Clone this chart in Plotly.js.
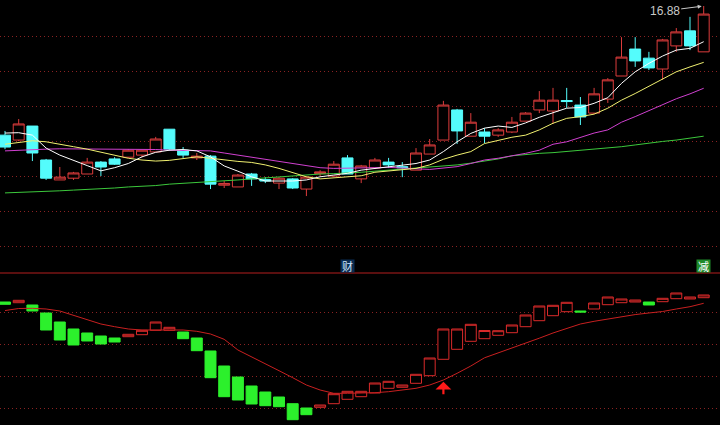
<!DOCTYPE html>
<html><head><meta charset="utf-8">
<script src="https://cdn.plot.ly/plotly-3.0.1.min.js"></script>
<style>html,body{margin:0;padding:0;background:#000;}#chart{width:720px;height:425px;}</style>
</head><body><div id="chart"></div>
<script>
// ---- price candles (52 sessions) ----
const openP  = [13.19,13.05,13.45,12.48,11.91,11.96,12.08,12.42,12.51,12.56,
                12.62,12.71,13.36,12.76,12.54,12.59,11.76,11.71,12.08,11.92,
                11.82,11.94,11.65,12.09,12.02,12.54,11.94,12.25,12.42,12.29,
                12.19,12.65,13.05,13.91,13.16,13.28,13.19,13.28,13.59,13.91,
                13.88,14.18,14.05,13.82,14.22,14.88,15.65,15.39,15.08,15.74,
                16.17,15.57];
const highP  = [13.31,13.65,13.45,12.51,12.28,12.14,12.54,12.45,12.56,12.79,
                12.76,13.14,13.36,12.85,12.68,12.62,11.88,12.08,12.11,11.99,
                11.99,11.96,12.02,12.19,12.45,12.62,12.34,12.54,12.54,12.42,
                12.82,13.08,14.17,13.94,13.82,13.39,13.39,13.71,13.85,14.45,
                14.54,14.54,14.28,14.54,14.82,15.99,15.99,15.57,15.94,16.25,
                16.57,16.88];
const lowP   = [12.79,13.02,12.45,11.91,11.91,11.91,12.08,12.02,12.34,12.54,
                12.56,12.71,12.74,12.54,12.48,11.65,11.68,11.71,11.74,11.82,
                11.65,11.65,11.45,12.02,11.99,12.08,11.82,12.22,12.25,11.99,
                12.19,12.65,13.05,12.94,13.16,12.96,13.14,13.25,13.59,13.82,
                13.51,13.97,13.48,13.79,14.11,14.88,15.14,15.05,14.77,15.57,
                15.62,15.57];
const closeP = [12.85,13.51,12.68,11.96,11.99,12.11,12.42,12.28,12.36,12.76,
                12.76,13.08,12.79,12.62,12.59,11.79,11.81,12.05,11.94,11.88,
                11.96,11.68,11.99,12.14,12.36,12.08,12.31,12.48,12.34,12.26,
                12.68,12.91,14.05,13.31,13.56,13.16,13.34,13.56,13.82,14.19,
                14.19,14.15,13.71,14.37,14.77,15.42,15.31,15.11,15.91,16.14,
                15.74,16.65];
// ---- moving averages ----
const ma5  = [13.25,13.26,13.19,12.82,12.62,12.48,12.32,12.17,12.26,12.38,
              12.57,12.70,12.76,12.78,12.74,12.57,12.31,12.16,12.00,11.88,
              11.88,11.88,11.91,12.00,12.05,12.10,12.19,12.24,12.29,12.32,
              12.38,12.48,12.72,13.00,13.24,13.39,13.45,13.41,13.54,13.70,
              13.84,13.96,13.98,14.10,14.26,14.67,15.00,15.24,15.45,15.62,
              15.67,15.86];
const ma10 = [12.93,12.99,13.03,13.00,12.94,12.86,12.79,12.70,12.61,12.53,
              12.48,12.45,12.47,12.53,12.57,12.53,12.48,12.44,12.41,12.34,
              12.24,12.12,12.00,11.94,11.97,12.00,12.03,12.13,12.17,12.21,
              12.24,12.34,12.50,12.62,12.72,12.95,13.05,13.13,13.19,13.34,
              13.53,13.67,13.72,13.79,13.96,14.19,14.38,14.59,14.81,15.00,
              15.14,15.27];
const ma20 = [12.74,12.76,12.79,12.79,12.80,12.80,12.80,12.80,12.80,12.79,
              12.79,12.78,12.76,12.76,12.74,12.74,12.68,12.62,12.55,12.50,
              12.44,12.38,12.32,12.26,12.24,12.24,12.24,12.26,12.27,12.26,
              12.23,12.21,12.24,12.29,12.38,12.48,12.53,12.59,12.67,12.76,
              12.93,13.00,13.12,13.25,13.34,13.56,13.72,13.89,14.08,14.23,
              14.37,14.53];
const ma60 = [11.54,11.55,11.56,11.58,11.60,11.62,11.64,11.64,11.68,11.71,
              11.72,11.75,11.79,11.81,11.84,11.86,11.88,11.91,11.94,11.97,
              12.00,12.03,12.05,12.08,12.09,12.10,12.13,12.16,12.19,12.21,
              12.24,12.26,12.29,12.34,12.39,12.45,12.51,12.60,12.64,12.67,
              12.69,12.72,12.75,12.78,12.82,12.86,12.91,12.97,13.01,13.05,
              13.11,13.16];
// ---- lower indicator (box open / close) and its signal line ----
const indOpen  = [46.25,45.81,44.38,39.38,33.75,29.38,26.88,25.00,23.75,24.56,
                  25.81,28.56,28.56,27.50,23.75,15.63,6.25,-0.63,-6.25,-10.00,
                  -13.13,-17.31,-20.00,-19.56,-17.31,-14.56,-12.94,-10.63,-7.69,-7.06,
                  -4.56,0.19,10.44,16.69,21.69,23.31,25.44,27.06,30.81,34.56,
                  37.69,40.19,40.63,41.88,44.56,45.81,46.25,46.25,46.44,48.31,
                  48.13,48.94];
const indClose = [44.81,47.31,40.63,28.75,22.50,19.38,21.88,20.00,21.25,26.06,
                  28.56,33.75,30.44,23.31,15.81,-1.06,-12.94,-15.00,-17.50,-18.56,
                  -19.19,-27.31,-24.19,-18.13,-11.06,-9.56,-9.56,-4.38,-3.31,-5.63,
                  1.06,11.25,29.38,29.38,32.31,28.44,28.31,31.88,38.13,43.75,
                  44.19,46.06,40.00,45.63,49.38,48.13,47.50,44.38,48.56,51.88,
                  49.38,50.63];
const signal   = [40.90,42.19,42.31,41.88,40.63,37.94,34.81,32.50,30.81,29.38,
                  28.75,28.56,28.75,28.75,27.94,26.25,22.94,16.25,12.06,7.69,
                  3.31,-1.06,-5.63,-8.75,-10.81,-10.81,-10.81,-10.44,-9.81,-8.75,
                  -7.69,-5.63,-2.50,1.69,6.25,11.38,14.38,17.50,20.50,23.63,
                  26.88,29.63,32.50,34.19,35.69,37.19,38.38,39.38,40.31,41.88,
                  43.31,45.44];
const priceTicks = [10,11,12,13,14,15,16];
const indTicks = [-20,0,20,40];
const peakLabel = '16.88';
const eventLabels = [{i:25, t:'财'}, {i:51, t:'减'}];
const signalArrowIdx = 32;

const idx = openP.map((_, i) => i);
const H = 425, SPLIT = 273;
const split = 1 - SPLIT / H;

const indHigh = indOpen.map((o, i) => Math.max(o, indClose[i]));
const indLow  = indOpen.map((o, i) => Math.min(o, indClose[i]));

const RED = '#dc3c3c', CYAN = '#54fcfc', GRN = '#2cf02c';

const traces = [
  {type:'candlestick', x:idx, open:openP, high:highP, low:lowP, close:closeP,
   xaxis:'x', yaxis:'y', whiskerwidth:0, hoverinfo:'skip',
   increasing:{line:{color:RED, width:1}, fillcolor:'#000000'},
   decreasing:{line:{color:CYAN, width:1}, fillcolor:CYAN}},
  {type:'scatter', mode:'lines', x:idx, y:ma60, line:{color:'#3cc83c', width:1}, xaxis:'x', yaxis:'y', hoverinfo:'skip'},
  {type:'scatter', mode:'lines', x:idx, y:ma20, line:{color:'#d040d0', width:1}, xaxis:'x', yaxis:'y', hoverinfo:'skip'},
  {type:'scatter', mode:'lines', x:idx, y:ma10, line:{color:'#f0f070', width:1}, xaxis:'x', yaxis:'y', hoverinfo:'skip'},
  {type:'scatter', mode:'lines', x:idx, y:ma5,  line:{color:'#ffffff', width:1}, xaxis:'x', yaxis:'y', hoverinfo:'skip'},
  {type:'candlestick', x:idx, open:indOpen, high:indHigh, low:indLow, close:indClose,
   xaxis:'x', yaxis:'y2', whiskerwidth:0, hoverinfo:'skip',
   increasing:{line:{color:'#d82a2a', width:1}, fillcolor:'#000000'},
   decreasing:{line:{color:GRN, width:1}, fillcolor:GRN}},
  {type:'scatter', mode:'lines', x:idx, y:signal, line:{color:'#c82020', width:1}, xaxis:'x', yaxis:'y2', hoverinfo:'skip'}
];

const gridStyle = {showticklabels:false, zeroline:false, showline:false, ticks:'',
  gridcolor:'#8a2222', griddash:'1px,3px', gridwidth:1, tickmode:'array'};

const annotations = [
  {x:idx[51], y:highP[51], xref:'x', yref:'y', text:peakLabel, showarrow:true,
   ax:-39, ay:5, arrowhead:2, arrowsize:0.8, arrowwidth:1, arrowcolor:'#c8c8c8', standoff:2,
   font:{family:'Liberation Sans, Arial', size:12, color:'#c8c8c8'}},
  {x:signalArrowIdx, y:-3.56, xref:'x', yref:'y2', text:'', showarrow:true,
   ax:0, ay:14, arrowhead:1, arrowsize:1.2, arrowwidth:2.2, arrowcolor:'#ff1a1a', font:{size:1}}
];
eventLabels.forEach((e, k) => {
  annotations.push({x:e.i, y:1 - 265.5 / H, xref:'x', yref:'paper', text:e.t, showarrow:false,
    width:13, height:12, borderpad:0,
    bgcolor: k === 0 ? '#0b2c52' : '#1f8a2a',
    font:{family:'Noto Sans CJK SC', size:11, color: k === 0 ? '#d0e8ff' : '#ffffff'}});
});

const layout = {
  width:720, height:425, margin:{l:0, r:0, t:0, b:0},
  paper_bgcolor:'#000000', plot_bgcolor:'#000000', showlegend:false,
  boxgap:0.2, boxgroupgap:0,
  font:{family:'Liberation Sans, Arial', color:'#c8c8c8'},
  xaxis:{range:[-5/13.7, 715/13.7], showgrid:false, showticklabels:false, zeroline:false,
         showline:false, ticks:'', rangeslider:{visible:false}, anchor:'y2'},
  yaxis:Object.assign({domain:[split, 1], range:[9.2514, 17.0514], tickvals:priceTicks}, gridStyle),
  yaxis2:Object.assign({domain:[0, split], range:[-30.625, 64.375], tickvals:indTicks}, gridStyle),
  shapes:[{type:'line', xref:'paper', yref:'paper', x0:0, x1:1, y0:split, y1:split,
           line:{color:'#b41e1e', width:1}}],
  annotations: annotations
};

Plotly.newPlot('chart', traces, layout, {staticPlot:true, displayModeBar:false});
</script>
</body></html>
